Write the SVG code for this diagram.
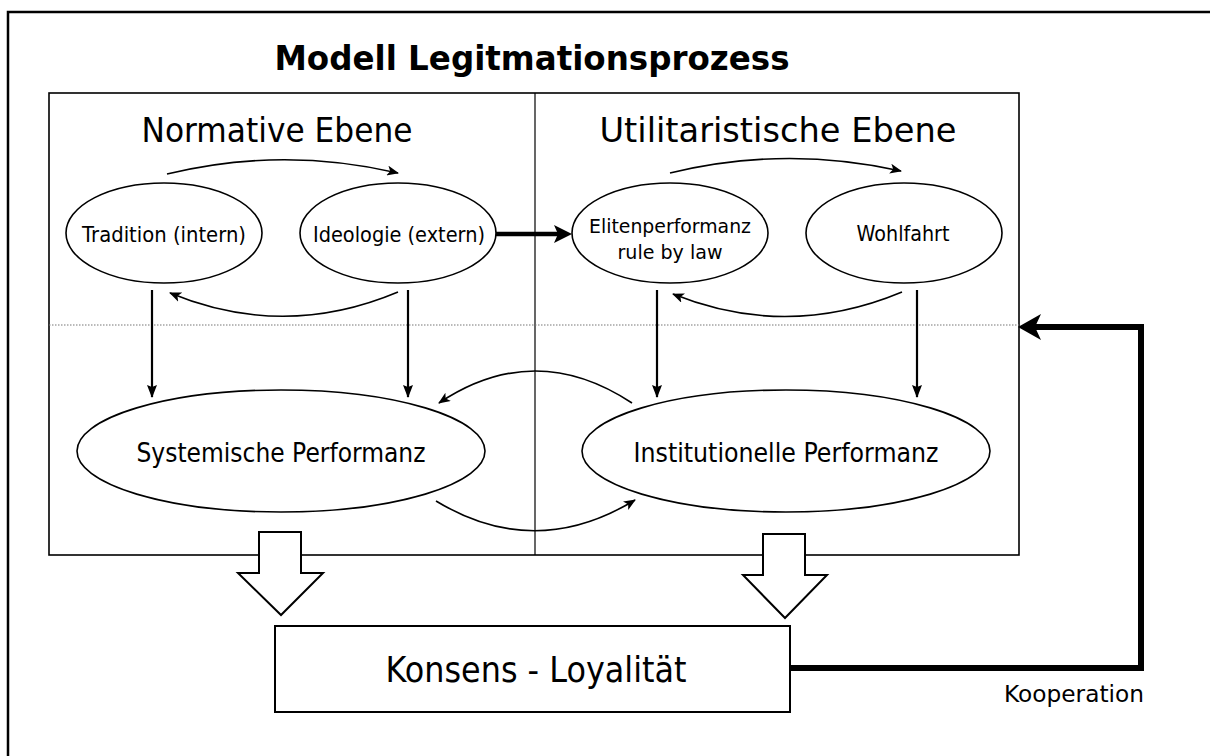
<svg xmlns="http://www.w3.org/2000/svg" width="1210" height="756" viewBox="0 0 1210 756">
<defs>
<style>
text{font-family:"DejaVu Sans","Liberation Sans",sans-serif;fill:#000;text-anchor:middle}
.title{font-size:33px;font-weight:bold}
.h{font-size:33px}
.n{font-size:22px}
.n2{font-size:19.5px}
.big{font-size:26px}
.k{font-size:35px}
.ko{font-size:23px}
.e{fill:#fff;stroke:#000;stroke-width:1.6}
.thin{fill:none;stroke:#000;stroke-width:1.6}
.v{fill:none;stroke:#000;stroke-width:2.2}
.blk{fill:#fff;stroke:#000;stroke-width:2;stroke-linejoin:miter}
</style>
<marker id="ah" viewBox="0 0 12 10" refX="11" refY="5" markerWidth="12" markerHeight="10" markerUnits="userSpaceOnUse" orient="auto">
<path d="M0,0 L12,5 L0,10 L3,5 z" fill="#000"/>
</marker>
<marker id="ahv" viewBox="0 0 13 10" refX="12" refY="5" markerWidth="13" markerHeight="10" markerUnits="userSpaceOnUse" orient="auto">
<path d="M0,0 L13,5 L0,10 L2,5 z" fill="#000"/>
</marker>
</defs>
<rect width="1210" height="756" fill="#fff"/>
<path d="M8,756 V12 H1210" fill="none" stroke="#000" stroke-width="2.5"/>
<text class="title" x="532" y="70" textLength="515" lengthAdjust="spacingAndGlyphs">Modell Legitmationsprozess</text>

<g id="main-box">
<rect x="49" y="93" width="970" height="462" fill="none" stroke="#000" stroke-width="1.6"/>
<line x1="535" y1="93" x2="535" y2="555" stroke="#000" stroke-width="1.2"/>
<line x1="49" y1="325" x2="1019" y2="325" stroke="#777" stroke-width="1.2" stroke-dasharray="1.5,1.5"/>
<text class="h" x="277" y="142" textLength="271" lengthAdjust="spacingAndGlyphs">Normative Ebene</text>
<text class="h" x="778" y="142" textLength="357" lengthAdjust="spacingAndGlyphs">Utilitaristische Ebene</text>
</g>

<g id="tradition">
<ellipse class="e" cx="164" cy="233" rx="98" ry="50"/>
<text class="n" x="164" y="242" textLength="164" lengthAdjust="spacingAndGlyphs">Tradition (intern)</text>
</g>
<g id="ideologie">
<ellipse class="e" cx="398" cy="233" rx="98" ry="50"/>
<text class="n" x="399" y="242" textLength="172" lengthAdjust="spacingAndGlyphs">Ideologie (extern)</text>
</g>
<g id="elitenperformanz">
<ellipse class="e" cx="670" cy="233" rx="98" ry="50"/>
<text class="n2" x="670" y="233" textLength="162" lengthAdjust="spacingAndGlyphs">Elitenperformanz</text>
<text class="n2" x="670" y="259" textLength="105" lengthAdjust="spacingAndGlyphs">rule by law</text>
</g>
<g id="wohlfahrt">
<ellipse class="e" cx="904" cy="233" rx="98" ry="50"/>
<text class="n" x="903" y="241" textLength="93" lengthAdjust="spacingAndGlyphs">Wohlfahrt</text>
</g>
<g id="systemische">
<ellipse class="e" cx="281" cy="451" rx="204" ry="61"/>
<text class="big" x="281" y="462" textLength="289" lengthAdjust="spacingAndGlyphs">Systemische Performanz</text>
</g>
<g id="institutionelle">
<ellipse class="e" cx="786" cy="451" rx="204" ry="61"/>
<text class="big" x="786" y="462" textLength="305" lengthAdjust="spacingAndGlyphs">Institutionelle Performanz</text>
</g>

<g id="connectors">
<path class="thin" d="M167,174 Q282,146 398,173" marker-end="url(#ah)"/>
<path class="thin" d="M670,173 Q785,145 901,171" marker-end="url(#ah)"/>
<path class="thin" d="M398,292 Q284,340 170,293" marker-end="url(#ah)"/>
<path class="thin" d="M902,292 Q787,340 673,294" marker-end="url(#ah)"/>
<path class="v" d="M152,290 V397" marker-end="url(#ahv)"/>
<path class="v" d="M408,290 V397" marker-end="url(#ahv)"/>
<path class="v" d="M657,290 V397" marker-end="url(#ahv)"/>
<path class="v" d="M917,290 V397" marker-end="url(#ahv)"/>
<path class="thin" d="M632,403 Q535,339 439,403" marker-end="url(#ah)"/>
<path class="thin" d="M436,501 Q535,561 635,500" marker-end="url(#ah)"/>
<line x1="496" y1="234" x2="558" y2="234" stroke="#000" stroke-width="4.5"/>
<polygon points="572,234 554,225 558,234 554,243" fill="#000"/>
<polygon class="blk" points="259,532 301,532 301,573 323,573 281,615 238,573 259,573"/>
<polygon class="blk" points="763,534 805,534 805,575 827,575 785,618 743,575 763,575"/>
<path d="M790,668 H1141 V327 H1034" fill="none" stroke="#000" stroke-width="6"/>
<polygon points="1018,327 1041,314 1035,327 1041,340" fill="#000"/>
</g>

<g id="konsens">
<rect x="275" y="626" width="515" height="86" fill="#fff" stroke="#000" stroke-width="2"/>
<text class="k" x="536" y="682" textLength="301" lengthAdjust="spacingAndGlyphs">Konsens - Loyalität</text>
</g>
<text class="ko" x="1074" y="702" textLength="140" lengthAdjust="spacingAndGlyphs">Kooperation</text>
</svg>
